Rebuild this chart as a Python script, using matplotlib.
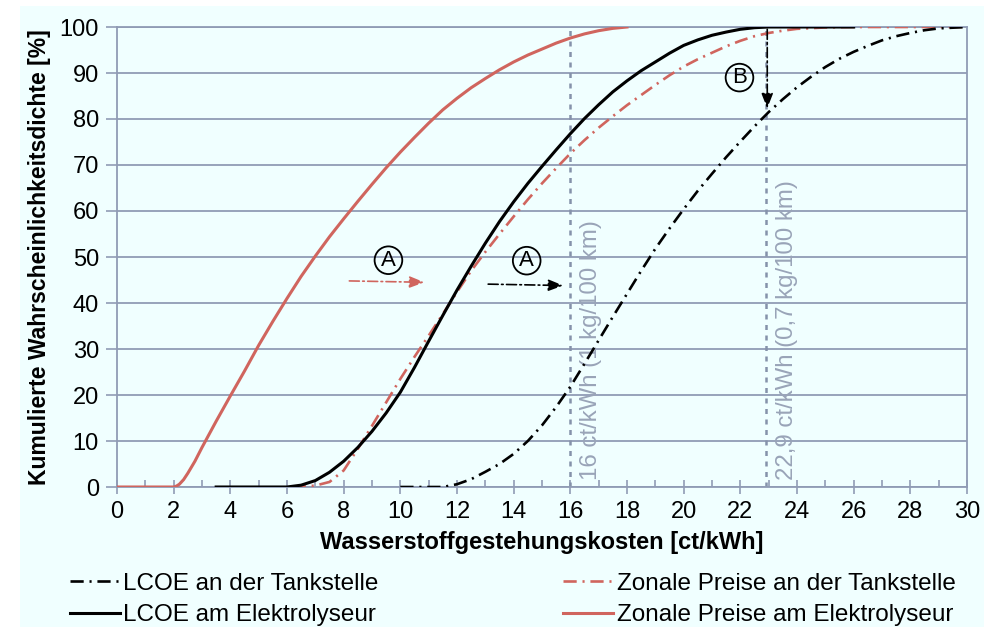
import matplotlib
matplotlib.use('Agg')
import numpy as np
import matplotlib.pyplot as plt
from matplotlib.patches import Rectangle
from matplotlib.ticker import MultipleLocator

plt.rcParams['font.family'] = ['Liberation Sans', 'DejaVu Sans']

# LCOE an der Tankstelle
x_lcoe_ts = [10, 11.5, 12, 12.5, 13, 13.5, 14, 14.5, 15, 15.5, 16, 16.5, 17, 17.5, 18, 18.5, 19, 19.5,
             20, 20.5, 21, 21.5, 22, 22.5, 23, 23.5, 24, 24.5, 25, 25.5, 26, 26.5, 27, 27.5, 28, 28.5, 29, 30]
y_lcoe_ts = [0, 0, 0.6, 1.7, 3.3, 5, 7.2, 10, 13.4, 17.4, 21.8, 26.8, 31.9, 37, 42, 47, 51.8, 56.2,
             60.4, 64.4, 68.1, 71.7, 75.1, 78.4, 81.5, 84.3, 86.9, 89.2, 91.3, 93.1, 94.6, 95.9, 97.1, 98, 98.7, 99.3, 99.7, 100]

# Zonale Preise an der Tankstelle
x_zon_ts = [6.2, 6.5, 7, 7.5, 8, 8.5, 9, 9.5, 10, 10.5, 11, 11.5, 12, 12.5, 13, 13.5, 14, 14.5, 15, 15.5,
            16, 16.5, 17, 17.5, 18, 18.5, 19, 19.5, 20, 20.5, 21, 21.5, 22, 22.5, 23, 23.5, 24, 25, 26, 30]
y_zon_ts = [0, 0.1, 0.3, 1.1, 3.6, 8.3, 13.3, 18.4, 23.5, 28.3, 32.9, 37.6, 42.4, 47, 51.1, 55, 58.8, 62.5, 66, 69.3,
            72.5, 75.4, 78.1, 80.6, 83, 85.2, 87.4, 89.5, 91.4, 93, 94.4, 95.8, 97, 98, 98.7, 99.2, 99.6, 99.9, 100, 100]

# LCOE am Elektrolyseur
x_lcoe_el = [3.5, 6, 6.5, 7, 7.5, 8, 8.5, 9, 9.5, 10, 10.5, 11, 11.5, 12, 12.5, 13, 13.5, 14, 14.5, 15,
             15.5, 16, 16.5, 17, 17.5, 18, 18.5, 19, 19.5, 20, 20.5, 21, 21.5, 22, 22.5, 23, 26]
y_lcoe_el = [0, 0, 0.4, 1.4, 3.2, 5.6, 8.6, 12.1, 16.1, 20.6, 26, 31.7, 37.3, 42.8, 48, 53, 57.7, 62, 66, 69.7,
             73.3, 76.8, 80.1, 83.1, 85.9, 88.3, 90.5, 92.4, 94.3, 96, 97.2, 98.2, 98.9, 99.5, 99.85, 100, 100]

# Zonale Preise am Elektrolyseur
x_zon_el = [0, 2, 2.1, 2.2, 2.35, 2.5, 2.75, 3, 3.5, 4, 4.5, 5, 5.5, 6, 6.5, 7, 7.5, 8, 8.5, 9, 9.5, 10,
            10.5, 11, 11.5, 12, 12.5, 13, 13.5, 14, 14.5, 15, 15.5, 16, 16.5, 17, 17.5, 18]
y_zon_el = [0, 0, 0.2, 0.6, 1.6, 3, 5.6, 8.6, 14.3, 19.8, 25.2, 30.8, 36, 41, 45.8, 50.2, 54.4, 58.3, 62.1, 65.8, 69.4, 72.8,
            76, 79.1, 82, 84.5, 86.8, 88.8, 90.7, 92.4, 93.9, 95.2, 96.5, 97.6, 98.5, 99.2, 99.7, 100]

marker_x = [16, 22.9]
marker_text = ["16 ct/kWh (1 kg/100 km)", "22,9 ct/kWh (0,7 kg/100 km)"]

red = '#d0655e'
grid = '#909cb5'
bg = '#f0ffff'
fs = 17

fig = plt.figure(figsize=(9.84, 6.27), dpi=100)
fig.patch.set_facecolor('white')
fig.patches.append(Rectangle((20/984, 0), 1, 1 - 6/627, transform=fig.transFigure,
                             facecolor=bg, edgecolor='none', zorder=-10))
ax = fig.add_axes([117/984, 1 - 487/627, 850/984, 460/627])
ax.set_facecolor(bg)

dd = (5, 2.2, 0.8, 2.2)
l1, = ax.plot(x_lcoe_ts, y_lcoe_ts, color='black', lw=1.9, dashes=dd, label='LCOE an der Tankstelle', zorder=4)
l2, = ax.plot(x_lcoe_el, y_lcoe_el, color='black', lw=2.2, label='LCOE am Elektrolyseur', zorder=4)
l3, = ax.plot(x_zon_ts, y_zon_ts, color=red, lw=1.9, dashes=dd, label='Zonale Preise an der Tankstelle', zorder=3)
l4, = ax.plot(x_zon_el, y_zon_el, color=red, lw=2.2, label='Zonale Preise am Elektrolyseur', zorder=3)

for xv, txt in zip(marker_x, marker_text):
    ax.plot([xv, xv], [0, 100], color='#8592aa', lw=1.8, dashes=(2, 2.2), zorder=2)
    ax.text(xv + 0.35, 1.5, txt, rotation=90, ha='left', va='bottom',
            fontsize=17.3, color='#99a4b8', zorder=2)

# annotations A / B
circ = dict(boxstyle='circle,pad=0.15', facecolor='none', edgecolor='black', lw=1.3)
head = '-|>,head_length=0.9,head_width=0.35'
ax.annotate('', xy=(10.85, 44.5), xytext=(8.2, 44.8),
            arrowprops=dict(arrowstyle=head, color=red,
                            lw=1.2, linestyle=(0, (6, 2, 1, 2)), shrinkA=0, shrinkB=0))
ax.text(9.58, 49.3, 'A', ha='center', va='center', fontsize=16, bbox=circ)
ax.annotate('', xy=(15.75, 43.8), xytext=(13.1, 44.1),
            arrowprops=dict(arrowstyle=head, color='black',
                            lw=1.2, linestyle=(0, (6, 2, 1, 2)), shrinkA=0, shrinkB=0))
ax.text(14.46, 49.2, 'A', ha='center', va='center', fontsize=16, bbox=circ)
ax.annotate('', xy=(22.95, 82.3), xytext=(22.95, 99.5),
            arrowprops=dict(arrowstyle=head, color='black',
                            lw=1.2, linestyle=(0, (6, 2, 1, 2)), shrinkA=0, shrinkB=0))
ax.text(21.97, 89, 'B', ha='center', va='center', fontsize=16, bbox=circ)

ax.set_xlim(0, 30)
ax.set_ylim(0, 100)
ax.xaxis.set_major_locator(MultipleLocator(2))
ax.xaxis.set_minor_locator(MultipleLocator(1))
ax.yaxis.set_major_locator(MultipleLocator(10))
ax.grid(axis='y', color=grid, lw=1.3)
ax.set_axisbelow(True)
for s in ['left', 'right', 'bottom', 'top']:
    ax.spines[s].set_color(grid)
    ax.spines[s].set_linewidth(1.3)
ax.tick_params(axis='x', which='major', direction='inout', length=10, width=1.2,
               color=grid, labelsize=fs, pad=5)
ax.tick_params(axis='x', which='minor', direction='in', length=5, width=1.2, color=grid)
ax.tick_params(axis='y', which='major', direction='out', length=8, width=1.2,
               color=grid, labelsize=fs, pad=5)

ax.set_xlabel('Wasserstoffgestehungskosten [ct/kWh]', fontsize=17, fontweight='bold', labelpad=6)
ax.set_ylabel('Kumulierte Wahrscheinlichkeitsdichte [%]', fontsize=16.5, fontweight='bold', labelpad=6)

fig.legend(handles=[l1, l2, l3, l4], ncol=2, loc='upper left', bbox_to_anchor=(48/984, 1 - 551/627),
           frameon=False, fontsize=17.5, handlelength=2.05, handletextpad=0.15,
           columnspacing=7.6, labelspacing=0.38)

plt.savefig('out.png', dpi=100, facecolor=fig.get_facecolor())
